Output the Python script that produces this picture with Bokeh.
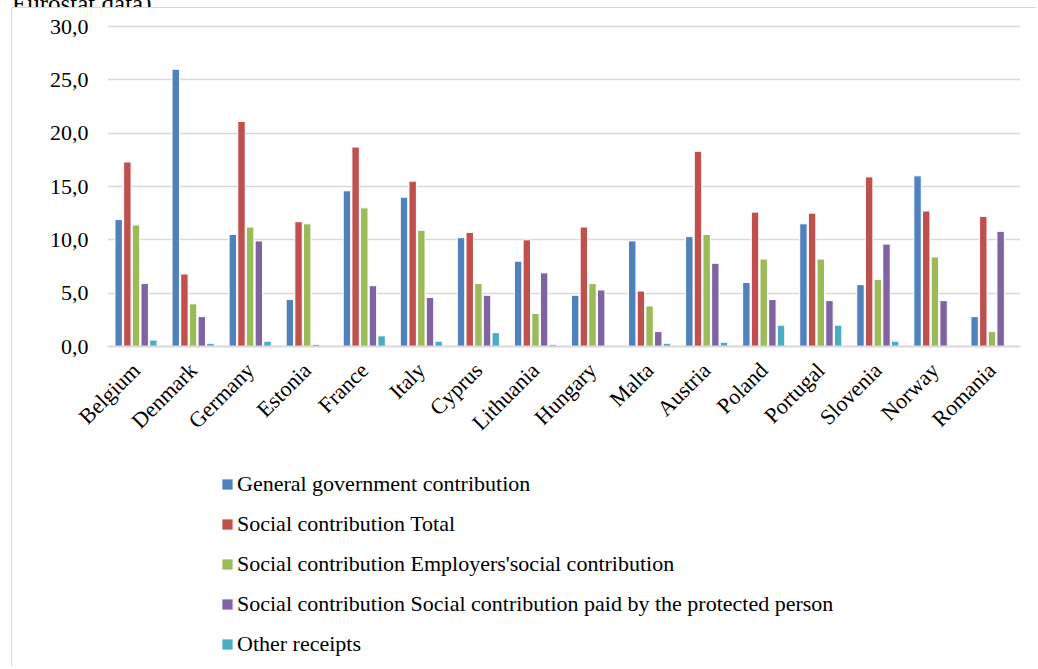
import math
from bokeh.plotting import figure
from bokeh.layouts import column
from bokeh.models import (FactorRange, Range1d, FixedTicker, CustomJSTickFormatter,
                          Legend, LegendItem, ColumnDataSource, Div)
from bokeh.transform import dodge
from bokeh.embed import file_html
from bokeh.resources import INLINE

countries = ["Belgium", "Denmark", "Germany", "Estonia", "France", "Italy", "Cyprus",
             "Lithuania", "Hungary", "Malta", "Austria", "Poland", "Portugal",
             "Slovenia", "Norway", "Romania"]

general_government = [11.9, 26.0, 10.5, 4.4, 14.6, 14.0, 10.2, 8.0, 4.8, 9.9, 10.3, 6.0, 11.5, 5.8, 16.0, 2.8]
social_total = [17.3, 6.8, 21.1, 11.7, 18.7, 15.5, 10.7, 10.0, 11.2, 5.2, 18.3, 12.6, 12.5, 15.9, 12.7, 12.2]
employers = [11.4, 4.0, 11.2, 11.5, 13.0, 10.9, 5.9, 3.1, 5.9, 3.8, 10.5, 8.2, 8.2, 6.3, 8.4, 1.4]
protected_person = [5.9, 2.8, 9.9, 0.2, 5.7, 4.6, 4.8, 6.9, 5.3, 1.4, 7.8, 4.4, 4.3, 9.6, 4.3, 10.8]
other_receipts = [0.6, 0.3, 0.5, 0.0, 1.0, 0.5, 1.3, 0.2, 0.1, 0.3, 0.4, 2.0, 2.0, 0.5, 0.0, 0.1]

series_names = ["General government contribution",
                "Social contribution Total",
                "Social contribution Employers'social contribution",
                "Social contribution Social contribution paid by the protected person",
                "Other receipts"]
series_keys = ["gg", "st", "emp", "pp", "oth"]
colors = ["#4F81BD", "#C0504D", "#9BBB59", "#8064A2", "#4BACC6"]
y_ticks = [0, 5, 10, 15, 20, 25, 30]
caption_fragment = "Eurostat data)"

source = ColumnDataSource(data=dict(country=countries, gg=general_government, st=social_total,
                                    emp=employers, pp=protected_person, oth=other_receipts))

FONT = "Liberation Serif"
W = 1024

# ---------------- clipped caption line above the chart box ----------------
caption = Div(text=('<div style="font-family:\'Liberation Serif\'; font-size:25px; line-height:25px; '
                    'margin-top:-17px; margin-left:12px; white-space:nowrap; color:black;">'
                    + caption_fragment + '</div>'),
              width=300, height=7, margin=0, styles={"overflow": "hidden"})

# ---------------- main chart ----------------
p = figure(x_range=FactorRange(factors=countries, range_padding=0),
           y_range=Range1d(0, 30.19),
           width=W, height=458, output_backend="svg", toolbar_location=None,
           min_border_left=95, min_border_right=16, min_border_top=16, min_border_bottom=120)
p.frame_align = False
p.outline_line_color = None
p.background_fill_color = "white"
p.border_fill_color = "white"

offsets = [-0.304, -0.152, 0.0, 0.152, 0.304]
for key, off, col in zip(series_keys, offsets, colors):
    p.vbar(x=dodge("country", off, range=p.x_range), top=key, width=0.13, source=source,
           fill_color=col, line_color="white", line_width=1)

p.xgrid.grid_line_color = None
p.ygrid.grid_line_color = "#d9d9d9"
p.ygrid.grid_line_width = 1.6
p.yaxis.ticker = FixedTicker(ticks=y_ticks)
p.yaxis.formatter = CustomJSTickFormatter(code="return tick.toFixed(1).replace('.', ',');")
p.yaxis.axis_line_color = None
p.yaxis.major_tick_line_color = None
p.yaxis.minor_tick_line_color = None
p.yaxis.major_tick_out = 0
p.yaxis.major_tick_in = 0
p.yaxis.major_label_standoff = 19
p.yaxis.major_label_text_font = FONT
p.yaxis.major_label_text_font_size = "22px"
p.yaxis.major_label_text_color = "black"

p.xaxis.axis_line_color = "#d9d9d9"
p.xaxis.axis_line_width = 2
p.xaxis.major_tick_line_color = None
p.xaxis.minor_tick_line_color = None
p.xaxis.major_tick_out = 0
p.xaxis.major_tick_in = 0
p.xaxis.major_label_orientation = math.pi / 4
p.xaxis.major_label_standoff = 20
p.xaxis.major_label_text_font = FONT
p.xaxis.major_label_text_font_size = "22px"
p.xaxis.major_label_text_color = "black"

# ---------------- legend panel ----------------
lp = figure(width=W, height=200, output_backend="svg", toolbar_location=None,
            x_axis_type=None, y_axis_type=None,
            min_border_left=208, min_border_top=5, min_border_right=0, min_border_bottom=0)
lp.frame_align = False
lp.outline_line_color = None
lp.grid.grid_line_color = None
lp.border_fill_color = "white"
lp.background_fill_color = "white"

# hidden renderers that only supply the legend swatches
legend_renderers = [lp.vbar(x=key, top=key, width=0.5, source=source, fill_color=col,
                            line_color="white", line_width=1, visible=False)
                    for key, col in zip(series_keys, colors)]

legend = Legend(items=[LegendItem(label=n, renderers=[r]) for n, r in zip(series_names, legend_renderers)],
                location="top_left", orientation="vertical",
                glyph_width=14, glyph_height=14, label_height=14, spacing=14,
                label_standoff=3, padding=0, margin=0,
                border_line_color=None, background_fill_alpha=0,
                label_text_font=FONT, label_text_font_size="22px", label_text_color="black")
lp.add_layout(legend, "center")

chart_box = column(p, lp, spacing=0,
                   styles={"border-left": "1px solid #d9d9d9", "border-top": "1px solid #d9d9d9",
                           "margin-left": "11px"})
layout = column(caption, chart_box, spacing=0)

open("out.html", "w").write(file_html(layout, INLINE))
